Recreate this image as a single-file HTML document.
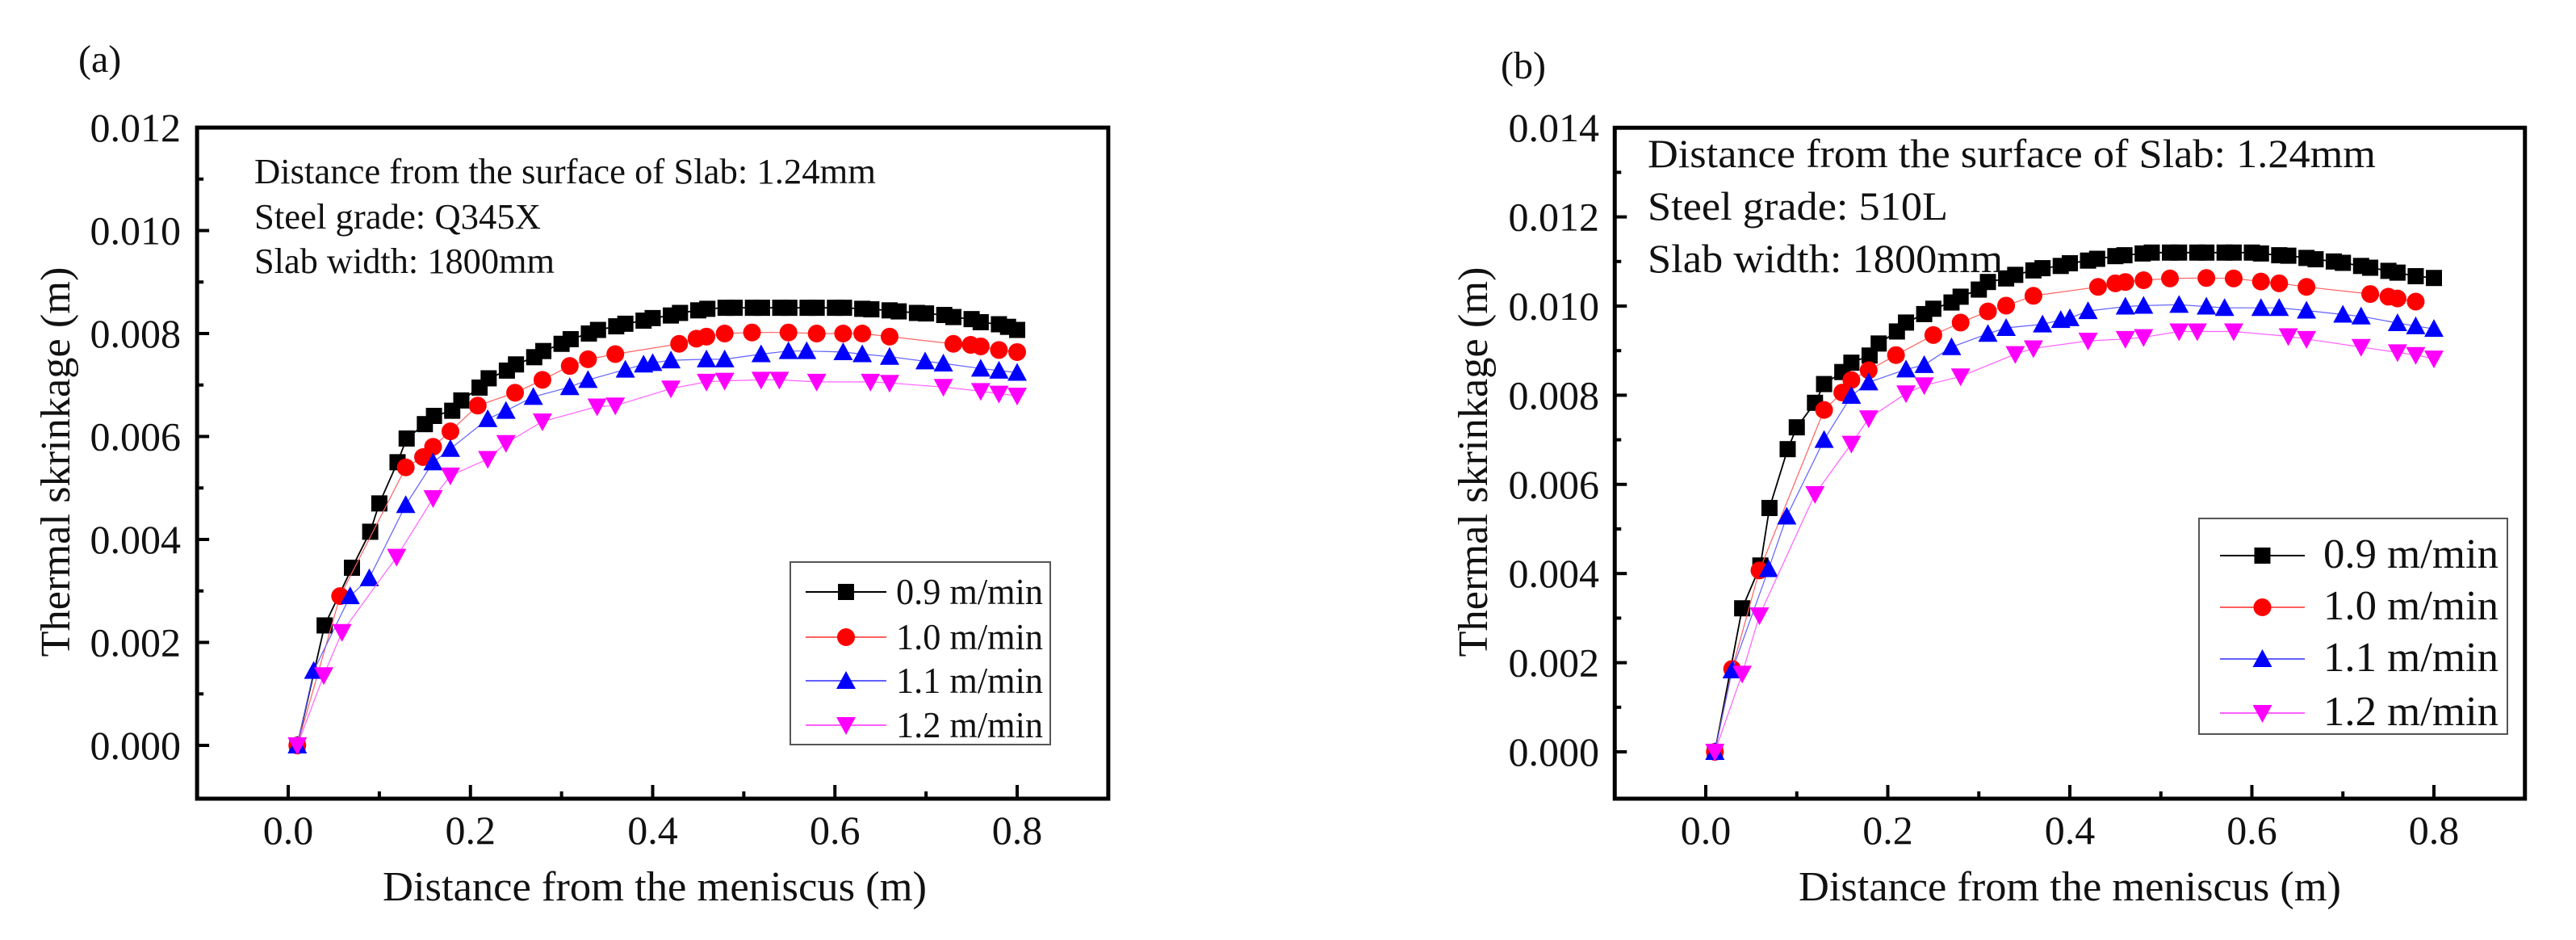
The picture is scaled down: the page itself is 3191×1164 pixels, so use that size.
<!DOCTYPE html>
<html><head><meta charset="utf-8"><style>
html,body{margin:0;padding:0;background:#fff;}
svg{display:block;font-family:"Liberation Serif",serif;}
</style></head><body>
<svg id="fig" width="3191" height="1164" viewBox="0 0 3191 1164" xmlns="http://www.w3.org/2000/svg">
<rect x="0" y="0" width="3191" height="1164" fill="#fff"/>
</svg>
<script>
// ---- Panel (a) data ----
const aX09 = [0.01,0.04,0.07,0.09,0.10,0.12,0.13,0.15,0.16,0.18,0.19,0.21,0.22,0.24,0.25,0.27,0.28,0.30,0.31,0.33,0.34,0.36,0.37,0.39,0.40,0.42,0.43,0.45,0.46,0.48,0.49,0.51,0.52,0.54,0.55,0.57,0.58,0.60,0.61,0.63,0.64,0.66,0.67,0.69,0.70,0.72,0.73,0.75,0.76,0.78,0.79,0.80];
const aY09 = [0,2.33,3.45,4.15,4.7,5.5,5.96,6.24,6.4,6.5,6.7,6.95,7.13,7.28,7.4,7.54,7.66,7.8,7.89,8.0,8.07,8.14,8.19,8.25,8.3,8.35,8.4,8.45,8.48,8.5,8.5,8.5,8.5,8.5,8.5,8.5,8.5,8.5,8.5,8.48,8.47,8.45,8.43,8.4,8.39,8.36,8.32,8.28,8.22,8.18,8.13,8.07];
const aX10 = [0.01,0.057,0.129,0.148,0.159,0.178,0.208,0.249,0.279,0.309,0.329,0.359,0.429,0.448,0.459,0.479,0.509,0.549,0.58,0.609,0.63,0.66,0.73,0.749,0.76,0.78,0.8];
const aY10 = [0,2.9,5.4,5.6,5.8,6.1,6.6,6.85,7.1,7.37,7.5,7.6,7.8,7.9,7.94,8.0,8.02,8.02,8.0,8.0,8.0,7.94,7.8,7.78,7.75,7.68,7.64];
const aX11 = [0.01,0.028,0.068,0.089,0.129,0.159,0.178,0.219,0.239,0.269,0.309,0.329,0.37,0.39,0.40,0.42,0.459,0.479,0.519,0.549,0.569,0.609,0.63,0.66,0.699,0.719,0.76,0.78,0.8];
const aY11 = [0,1.45,2.9,3.25,4.67,5.5,5.76,6.34,6.5,6.77,6.96,7.1,7.3,7.4,7.43,7.48,7.5,7.5,7.6,7.66,7.66,7.64,7.6,7.55,7.46,7.42,7.32,7.28,7.24];
const aX12 = [0.01,0.039,0.059,0.119,0.159,0.178,0.219,0.239,0.279,0.339,0.359,0.42,0.459,0.479,0.519,0.539,0.58,0.639,0.66,0.719,0.76,0.78,0.8];
const aY12 = [0,1.36,2.2,3.66,4.8,5.24,5.56,5.87,6.29,6.58,6.6,6.93,7.06,7.08,7.1,7.1,7.06,7.06,7.04,6.96,6.88,6.83,6.79];
// ---- Panel (b) data ----
const bX09 = [0.01,0.04,0.06,0.07,0.09,0.10,0.12,0.13,0.15,0.16,0.18,0.19,0.21,0.22,0.24,0.25,0.27,0.28,0.30,0.31,0.33,0.34,0.36,0.37,0.39,0.40,0.42,0.43,0.45,0.46,0.48,0.49,0.51,0.52,0.54,0.55,0.57,0.58,0.60,0.61,0.63,0.64,0.66,0.67,0.69,0.70,0.72,0.73,0.75,0.76,0.78,0.80];
const bY09 = [0,3.22,4.18,5.47,6.79,7.28,7.83,8.25,8.52,8.73,8.89,9.16,9.43,9.63,9.82,9.94,10.08,10.21,10.37,10.54,10.62,10.7,10.8,10.85,10.9,10.96,11.02,11.06,11.12,11.14,11.18,11.2,11.2,11.2,11.2,11.2,11.2,11.2,11.2,11.18,11.14,11.13,11.08,11.05,11.0,10.97,10.9,10.86,10.79,10.75,10.67,10.63];
const bX10 = [0.01,0.029,0.059,0.13,0.15,0.16,0.179,0.209,0.25,0.28,0.31,0.33,0.36,0.431,0.45,0.461,0.481,0.51,0.55,0.58,0.61,0.63,0.66,0.73,0.75,0.76,0.78];
const bY10 = [0,1.86,4.07,7.67,8.06,8.34,8.56,8.9,9.35,9.63,9.88,10.01,10.23,10.43,10.51,10.54,10.58,10.62,10.63,10.62,10.55,10.51,10.43,10.27,10.21,10.17,10.1];
const bX11 = [0.01,0.029,0.069,0.089,0.13,0.16,0.179,0.22,0.24,0.27,0.31,0.33,0.37,0.39,0.40,0.42,0.461,0.481,0.52,0.55,0.57,0.61,0.63,0.66,0.70,0.72,0.76,0.78,0.80];
const bY11 = [0,1.83,4.1,5.28,7.0,7.99,8.29,8.58,8.68,9.08,9.38,9.51,9.59,9.69,9.73,9.89,9.99,10.01,10.03,9.99,9.96,9.96,9.96,9.9,9.81,9.77,9.62,9.55,9.49];
const bX12 = [0.01,0.04,0.059,0.12,0.16,0.179,0.22,0.24,0.28,0.34,0.36,0.42,0.461,0.481,0.52,0.54,0.58,0.64,0.66,0.72,0.76,0.78,0.80];
const bY12 = [0,1.75,3.06,5.78,6.91,7.48,8.04,8.22,8.42,8.92,9.05,9.22,9.26,9.3,9.43,9.43,9.43,9.32,9.26,9.08,8.96,8.9,8.82];
// tick labels
const xTicks = [0.0,0.2,0.4,0.6,0.8];
const xTickLabels = ["0.0","0.2","0.4","0.6","0.8"];
const aYTicks = [0,0.002,0.004,0.006,0.008,0.010,0.012];
const bYTicks = [0,0.002,0.004,0.006,0.008,0.010,0.012,0.014];
const seriesNames = ["0.9 m/min","1.0 m/min","1.1 m/min","1.2 m/min"];

const NS = "http://www.w3.org/2000/svg";
const fig = document.getElementById('fig');
function mk(tag, attrs, parent, txt){
  const e = document.createElementNS(NS, tag);
  for (const k in attrs) e.setAttribute(k, attrs[k]);
  if (txt !== undefined) e.textContent = txt;
  (parent || fig).appendChild(e);
  return e;
}
const colors = ["#000000","#ff0000","#0000ff","#ff00ff"];
const lineColors = ["#000000","#ff6060","#6060ff","#ff60ff"];
const lineW = [1.8,1.2,1.2,1.2];

function marker(g, kind, cx, cy, color){
  let m;
  if (kind === 0) m = mk('rect', {x:cx-10, y:cy-10, width:20, height:20, fill:color}, g);
  else if (kind === 1) m = mk('circle', {cx:cx, cy:cy, r:11, fill:color}, g);
  else if (kind === 2) m = mk('polygon', {points:`${cx},${cy-12} ${cx-12},${cy+10} ${cx+12},${cy+10}`, fill:color}, g);
  else m = mk('polygon', {points:`${cx},${cy+12} ${cx-12},${cy-10} ${cx+12},${cy-10}`, fill:color}, g);
  return m;
}

function panel(cfg){
  const P = mk('g', {}, fig);
  
  
  const sx = v => cfg.x0 + v * cfg.kx;
  const sy = v => cfg.y0 - v * cfg.ky;
  const L = sx(-0.1), R = sx(0.9), T = sy(cfg.ymax), B = cfg.bottom;
  cfg.series.forEach((s, i) => {
    const g = mk('g', {}, P);
    
    
    const pts = s.x.map((x, j) => sx(x).toFixed(1) + ',' + sy(s.y[j] / 1000).toFixed(1)).join(' ');
    mk('polyline', {points: pts, fill:'none', stroke: lineColors[i], 'stroke-width':lineW[i]}, g);
    s.x.forEach((x, j) => {
      const m = marker(g, i, sx(x), sy(s.y[j] / 1000), colors[i]);
      
      
    });
  });
  const fr = mk('rect', {x:L, y:T, width:R-L, height:B-T, fill:'none', stroke:'#000', 'stroke-width':5}, P);
  
  
  for (let v = -0.1; v <= 0.9001; v += 0.1) {
    const major = Math.abs(Math.round(v*10) % 2) === 0;
    const px = sx(v);
    mk('line', {x1:px, x2:px, y1:B, y2:B-(major?17:9), stroke:'#000', 'stroke-width':4}, P);
  }
  xTicks.forEach((v, i) => {
    const t = mk('text', {x:sx(v), y:1045, 'font-size':50, 'text-anchor':'middle', fill:'#111'}, P, xTickLabels[i]);
    
    
  });
  for (let k = 0; k <= Math.round(cfg.ymax*1000); k++) {
    const v = k / 1000;
    const major = k % 2 === 0;
    const py = sy(v);
    mk('line', {x1:L, x2:L+(major?15:8), y1:py, y2:py, stroke:'#000', 'stroke-width':4}, P);
  }
  cfg.yTicks.forEach(v => {
    const t = mk('text', {x:cfg.ylabRight, y:sy(v)+17, 'font-size':50, 'text-anchor':'end', fill:'#111'}, P, v.toFixed(3));
    
    
  });
  const xt = mk('text', {x:cfg.xtitleX, y:1115, 'font-size':52, textLength:cfg.xtitleW, lengthAdjust:'spacingAndGlyphs', fill:'#111'}, P, 'Distance from the meniscus (m)');
  
  
  const yt = mk('text', {x:0, y:0, 'font-size':52, 'text-anchor':'middle', textLength:483, lengthAdjust:'spacingAndGlyphs', fill:'#111', transform:`translate(${cfg.ytitleX},572) rotate(-90)`}, P, 'Thermal skrinkage (m)');
  
  
  const pl = mk('text', {x:cfg.labX, y:cfg.labY, 'font-size':48, fill:'#111'}, P, cfg.label);
  
  
  const ag = mk('g', {}, P);
  
  
  cfg.notes.forEach((n, i) => {
    mk('text', {x:cfg.noteX, y:cfg.noteY[i], 'font-size':cfg.noteFS, textLength:cfg.noteW[i], lengthAdjust:'spacingAndGlyphs', fill:'#111'}, ag, n);
  });
  const lg = mk('g', {}, P);
  
  
  const lb = cfg.leg;
  mk('rect', {x:lb.x, y:lb.y, width:lb.w, height:lb.h, fill:'#fff', stroke:'#555', 'stroke-width':2}, lg);
  seriesNames.forEach((n, i) => {
    const e = mk('g', {}, lg);
    
    
    const ry = lb.rows[i];
    mk('line', {x1:lb.lx1, x2:lb.lx2, y1:ry, y2:ry, stroke:lineColors[i], 'stroke-width':2}, e);
    marker(e, i, (lb.lx1+lb.lx2)/2, ry, colors[i]);
    mk('text', {x:lb.tx, y:ry+15, 'font-size':lb.fs, textLength:lb.tw, lengthAdjust:'spacingAndGlyphs', fill:'#111'}, e, n);
  });
}

panel({
  name:'panel-a', x0:357, kx:1128.75, y0:923, ky:63750, ymax:0.012, bottom:989,
  yTicks:aYTicks, ylabRight:224, xtitleX:474, xtitleW:674, ytitleX:86,
  label:'(a)', labX:97, labY:89,
  series:[{x:aX09,y:aY09},{x:aX10,y:aY10},{x:aX11,y:aY11},{x:aX12,y:aY12}],
  notes:['Distance from the surface of Slab: 1.24mm','Steel grade: Q345X','Slab width: 1800mm'],
  noteX:315, noteY:[227,283,338], noteFS:44, noteW:[770,355,372],
  leg:{x:979, y:696, w:322, h:226, rows:[733,789,843,898], lx1:998, lx2:1098, tx:1110, tw:182, fs:46}
});
panel({
  name:'panel-b', x0:2113, kx:1127.5, y0:931, ky:55200, ymax:0.014, bottom:989,
  yTicks:bYTicks, ylabRight:1981, xtitleX:2228, xtitleW:672, ytitleX:1842,
  label:'(b)', labX:1859, labY:97,
  series:[{x:bX09,y:bY09},{x:bX10,y:bY10},{x:bX11,y:bY11},{x:bX12,y:bY12}],
  notes:['Distance from the surface of Slab: 1.24mm','Steel grade: 510L','Slab width: 1800mm'],
  noteX:2041, noteY:[207,272,337], noteFS:50, noteW:[902,372,440],
  leg:{x:2724, y:642, w:382, h:267, rows:[688,752,816,883], lx1:2750, lx2:2855, tx:2878, tw:217, fs:52}
});
</script>
</body></html>
